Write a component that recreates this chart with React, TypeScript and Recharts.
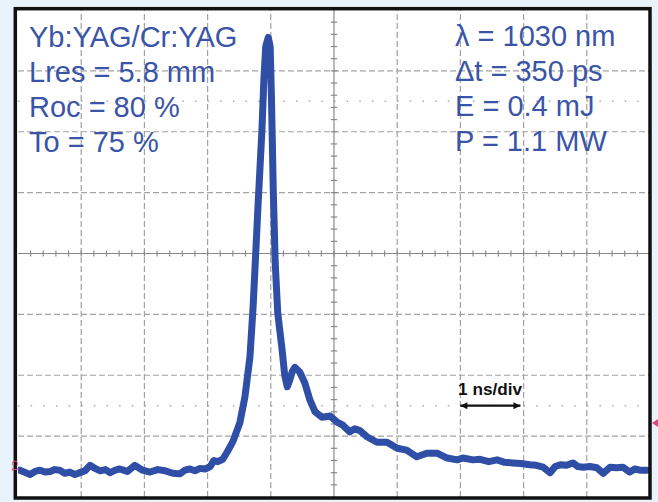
import React from "react";
import { LineChart, Line, XAxis, YAxis, ReferenceLine, ReferenceDot } from "recharts";

// time axis in ns (10 divisions, 1 ns/div), amplitude in screen divisions (8 divisions)
const times = [
  0.03, 0.12, 0.19, 0.27, 0.35, 0.43, 0.51, 0.58, 0.66, 0.74,
  0.82, 0.9, 0.98, 1.06, 1.14, 1.22, 1.3, 1.38, 1.46, 1.54,
  1.61, 1.73, 1.85, 1.97, 2.09, 2.21, 2.33, 2.45, 2.56, 2.64,
  2.72, 2.8, 2.88, 2.96, 3.04, 3.1, 3.16, 3.24, 3.31, 3.4,
  3.51, 3.59, 3.67, 3.72, 3.8, 3.86, 3.89, 3.92, 3.96, 3.99,
  4.01, 4.04, 4.07, 4.11, 4.18, 4.22, 4.26, 4.3, 4.34, 4.38,
  4.46, 4.54, 4.62, 4.7, 4.81, 4.94, 5.05, 5.14, 5.25, 5.33,
  5.41, 5.52, 5.68, 5.84, 6.0, 6.15, 6.31, 6.47, 6.63, 6.79,
  6.95, 7.04, 7.2, 7.31, 7.45, 7.58, 7.7, 7.83, 7.96, 8.1,
  8.2, 8.31, 8.42, 8.5, 8.58, 8.68, 8.78, 8.86, 8.94, 9.05,
  9.16, 9.26, 9.37, 9.47, 9.57, 9.68, 9.76, 9.84, 9.95,
];
const amplitudes = [
  0.44, 0.4, 0.37, 0.42, 0.44, 0.41, 0.42, 0.45, 0.44, 0.39,
  0.41, 0.37, 0.4, 0.43, 0.52, 0.47, 0.43, 0.45, 0.4, 0.44,
  0.46, 0.42, 0.52, 0.44, 0.41, 0.45, 0.43, 0.39, 0.38, 0.44,
  0.46, 0.43, 0.47, 0.46, 0.5, 0.6, 0.58, 0.62, 0.74, 0.91,
  1.22, 1.64, 2.3, 3.12, 4.83, 6.03, 6.85, 7.4, 7.55, 7.4,
  6.57, 5.0, 3.84, 3.02, 2.41, 2.0, 1.81, 1.92, 2.06, 2.13,
  2.05, 1.87, 1.59, 1.4, 1.31, 1.33, 1.23, 1.18, 1.07, 1.12,
  1.09, 0.99, 0.9, 0.9, 0.8, 0.77, 0.66, 0.72, 0.72, 0.64,
  0.61, 0.64, 0.61, 0.62, 0.58, 0.61, 0.57, 0.56, 0.55, 0.53,
  0.52, 0.49, 0.4, 0.5, 0.53, 0.52, 0.56, 0.5, 0.49, 0.5,
  0.48, 0.39, 0.49, 0.48, 0.49, 0.41, 0.46, 0.44, 0.44,
];

const majorX = [1, 2, 3, 4, 6, 7, 8, 9];
const majorY = [1, 2, 3, 5, 6, 7];
const centerX = 5;
const centerY = 4;
const dottedY = [1.5, 6.5];
const minorStep = 0.2;

const leftLabels = ["Yb:YAG/Cr:YAG", "Lres = 5.8 mm", "Roc = 80 %", "To = 75 %"];
const rightLabels = ["λ = 1030 nm", "Δt = 350 ps", "E = 0.4 mJ", "P = 1.1 MW"];
const scaleLabel = "1 ns/div";
const scaleArrow = { from: 7.0, to: 7.95, y: 1.5, labelX: 7.47, labelY: 1.68 };

const data = times.map((t, i) => ({ t, v: amplitudes[i] }));

const minorXs: number[] = [];
for (let k = 1; k < 50; k++) minorXs.push(+(k * minorStep).toFixed(2));
const minorYs: number[] = [];
for (let k = 1; k < 40; k++) minorYs.push(+(k * minorStep).toFixed(2));

const W = 658;
const H = 502;
const TRACE = "#2f4ea6";
const TEXT_BLUE = "#3a55a8";
const FONT = "'Liberation Sans', Arial, sans-serif";

const arrowHead = (dir: number) => (props: any) => {
  const { cx, cy } = props;
  return (
    <polygon
      points={`${cx},${cy} ${cx - dir * 7},${cy - 3.5} ${cx - dir * 7},${cy + 3.5}`}
      fill="#111"
    />
  );
};

export default function App() {
  return (
    <div style={{ position: "absolute", left: 0, top: 0, width: W, height: H, background: "#e9f3fb", overflow: "hidden" }}>
      <div style={{ position: "absolute", left: 15, top: 9, width: 635, height: 489, background: "#fff" }} />
      <div style={{ position: "absolute", left: 0, top: 0 }}>
        <LineChart width={W} height={H} data={data} margin={{ top: 10, right: 8, bottom: 5, left: 18 }}>
          <XAxis type="number" dataKey="t" domain={[0, 10]} hide allowDataOverflow />
          <YAxis type="number" domain={[0, 8]} hide allowDataOverflow />
          {majorX.map((x) => (
            <ReferenceLine key={`vx${x}`} x={x} stroke="#a2a2a2" strokeWidth={1.2} strokeDasharray="6 3" ifOverflow="visible" />
          ))}
          {majorY.map((y) => (
            <ReferenceLine key={`hy${y}`} y={y} stroke="#a2a2a2" strokeWidth={1.2} strokeDasharray="6 3" ifOverflow="visible" />
          ))}
          {dottedY.map((y) => (
            <ReferenceLine key={`dy${y}`} y={y} stroke="#ababab" strokeWidth={1.5} strokeDasharray="1.5 11.14" ifOverflow="visible" />
          ))}
          <ReferenceLine x={centerX} stroke="#8a8a8a" strokeWidth={1.2} />
          <ReferenceLine y={centerY} stroke="#8a8a8a" strokeWidth={1.2} />
          {minorYs.map((y) => (
            <ReferenceLine
              key={`ty${y}`}
              segment={[{ x: centerX - 0.05, y }, { x: centerX + 0.05, y }]}
              stroke="#8a8a8a"
              strokeWidth={1.2}
            />
          ))}
          {minorXs.map((x) => (
            <ReferenceLine
              key={`tx${x}`}
              segment={[{ x, y: centerY - 0.05 }, { x, y: centerY + 0.05 }]}
              stroke="#8a8a8a"
              strokeWidth={1.2}
            />
          ))}
          <ReferenceLine
            segment={[{ x: scaleArrow.from, y: scaleArrow.y }, { x: scaleArrow.to, y: scaleArrow.y }]}
            stroke="#111"
            strokeWidth={2.2}
          />
          <ReferenceDot x={scaleArrow.from} y={scaleArrow.y} r={4} shape={arrowHead(-1)} />
          <ReferenceDot x={scaleArrow.to} y={scaleArrow.y} r={4} shape={arrowHead(1)} />
          <ReferenceDot
            x={scaleArrow.labelX}
            y={scaleArrow.labelY}
            r={1}
            shape={(p: any) => (
              <text x={p.cx} y={p.cy} textAnchor="middle" fontFamily={FONT} fontSize={16} fontWeight="bold" fill="#111" textLength={64} lengthAdjust="spacingAndGlyphs">
                {scaleLabel}
              </text>
            )}
          />
          <Line
            type="linear"
            dataKey="v"
            stroke={TRACE}
            strokeWidth={7}
            strokeLinejoin="round"
            strokeLinecap="round"
            dot={false}
            activeDot={false}
            isAnimationActive={false}
          />
        </LineChart>
      </div>
      <svg width={W} height={H} style={{ position: "absolute", left: 0, top: 0, pointerEvents: "none" }}>
        <rect x={15.3} y={8.7} width={634.7} height={489.3} fill="none" stroke="#111" strokeWidth={3.5} />
        {leftLabels.map((s, i) => (
          <text key={s} x={29} y={47 + i * 35} fontFamily={FONT} fontSize={29} fill={TEXT_BLUE}>
            {s}
          </text>
        ))}
        {rightLabels.map((s, i) => (
          <text key={s} x={455} y={46 + i * 35} fontFamily={FONT} fontSize={29} fill={TEXT_BLUE}>
            {s}
          </text>
        ))}
        <text x={12} y={466} fontFamily={FONT} fontSize={9} fill="#e0457a" transform="rotate(90 12 466)" textAnchor="middle">
          C1
        </text>
        <polygon points="652,423 658,419 658,427" fill="#e0457a" />
      </svg>
    </div>
  );
}
